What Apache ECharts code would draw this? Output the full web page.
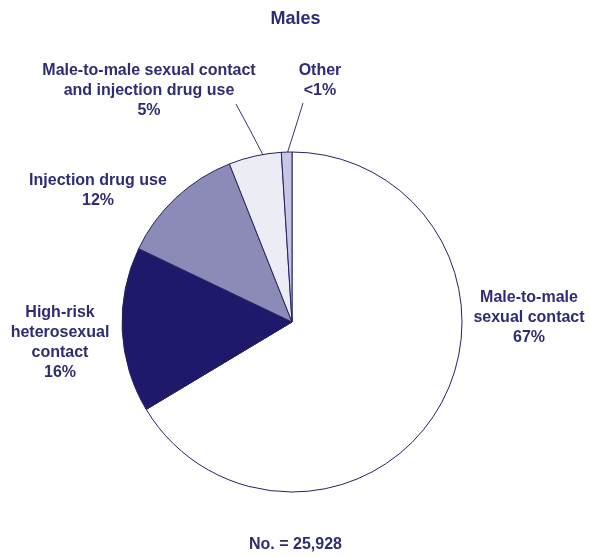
<!DOCTYPE html>
<html><head><meta charset="utf-8">
<script src="https://cdn.jsdelivr.net/npm/echarts@6/dist/echarts.min.js"></script>
<style>html,body{margin:0;padding:0;background:#fff}#c{width:591px;height:557px}</style>
</head><body><div id="c"></div>
<script>
const chartTitle = 'Males';
const totalText = 'No. = 25,928';
const categories = ['Male-to-male sexual contact', 'High-risk heterosexual contact', 'Injection drug use', 'Male-to-male sexual contact and injection drug use', 'Other'];
const labelNames = ['Male-to-male\nsexual contact', 'High-risk\nheterosexual\ncontact', 'Injection drug use', 'Male-to-male sexual contact\nand injection drug use', 'Other'];
const values = [66.4, 15.7, 11.9, 5.0, 1.0];
const pctLabels = ['67%', '16%', '12%', '5%', '<1%'];
const sliceColors = ['#ffffff', '#1e196b', '#8c8ab6', '#ececf5', '#c6c6e6'];

const textColor = '#2e2c72';
const labelPos = [[529, 318], [60, 343], [98, 191], [149, 91], [320, 81]];
const linePts = {
  3: [[263, 155], [250, 130], [236, 104]],
  4: [[287, 154], [295, 129], [303, 103]]
};

const chart = echarts.init(document.getElementById('c'), null, {renderer: 'canvas'});
chart.setOption({
  animation: false,
  backgroundColor: '#ffffff',
  title: [
    {text: chartTitle, left: 'center', top: 5, textStyle: {fontFamily: 'Liberation Sans, Arial, sans-serif', fontSize: 18, fontWeight: 'bold', color: textColor}},
    {text: totalText, left: 'center', top: 532, textStyle: {fontFamily: 'Liberation Sans, Arial, sans-serif', fontSize: 16, fontWeight: 'bold', color: textColor}}
  ],
  series: [{
    type: 'pie',
    center: [292, 322],
    radius: [0, 170],
    startAngle: 90,
    clockwise: true,
    avoidLabelOverlap: false,
    itemStyle: {borderColor: '#25225e', borderWidth: 1},
    label: {
      show: true,
      position: 'outside',
      fontFamily: 'Liberation Sans, Arial, sans-serif',
      fontSize: 16,
      fontWeight: 'bold',
      color: textColor,
      lineHeight: 20,
      align: 'center',
      formatter: p => labelNames[p.dataIndex] + '\n' + pctLabels[p.dataIndex]
    },
    labelLine: {show: true, lineStyle: {color: '#3a3866', width: 1}},
    labelLayout: function (params) {
      const i = params.dataIndex;
      const o = {x: labelPos[i][0], y: labelPos[i][1], align: 'center', verticalAlign: 'middle'};
      if (linePts[i]) o.labelLinePoints = linePts[i];
      return o;
    },
    data: categories.map((c, i) => ({
      name: c,
      value: values[i],
      itemStyle: {color: sliceColors[i]},
      labelLine: {show: !!linePts[i]}
    }))
  }]
});
</script>
</body></html>
